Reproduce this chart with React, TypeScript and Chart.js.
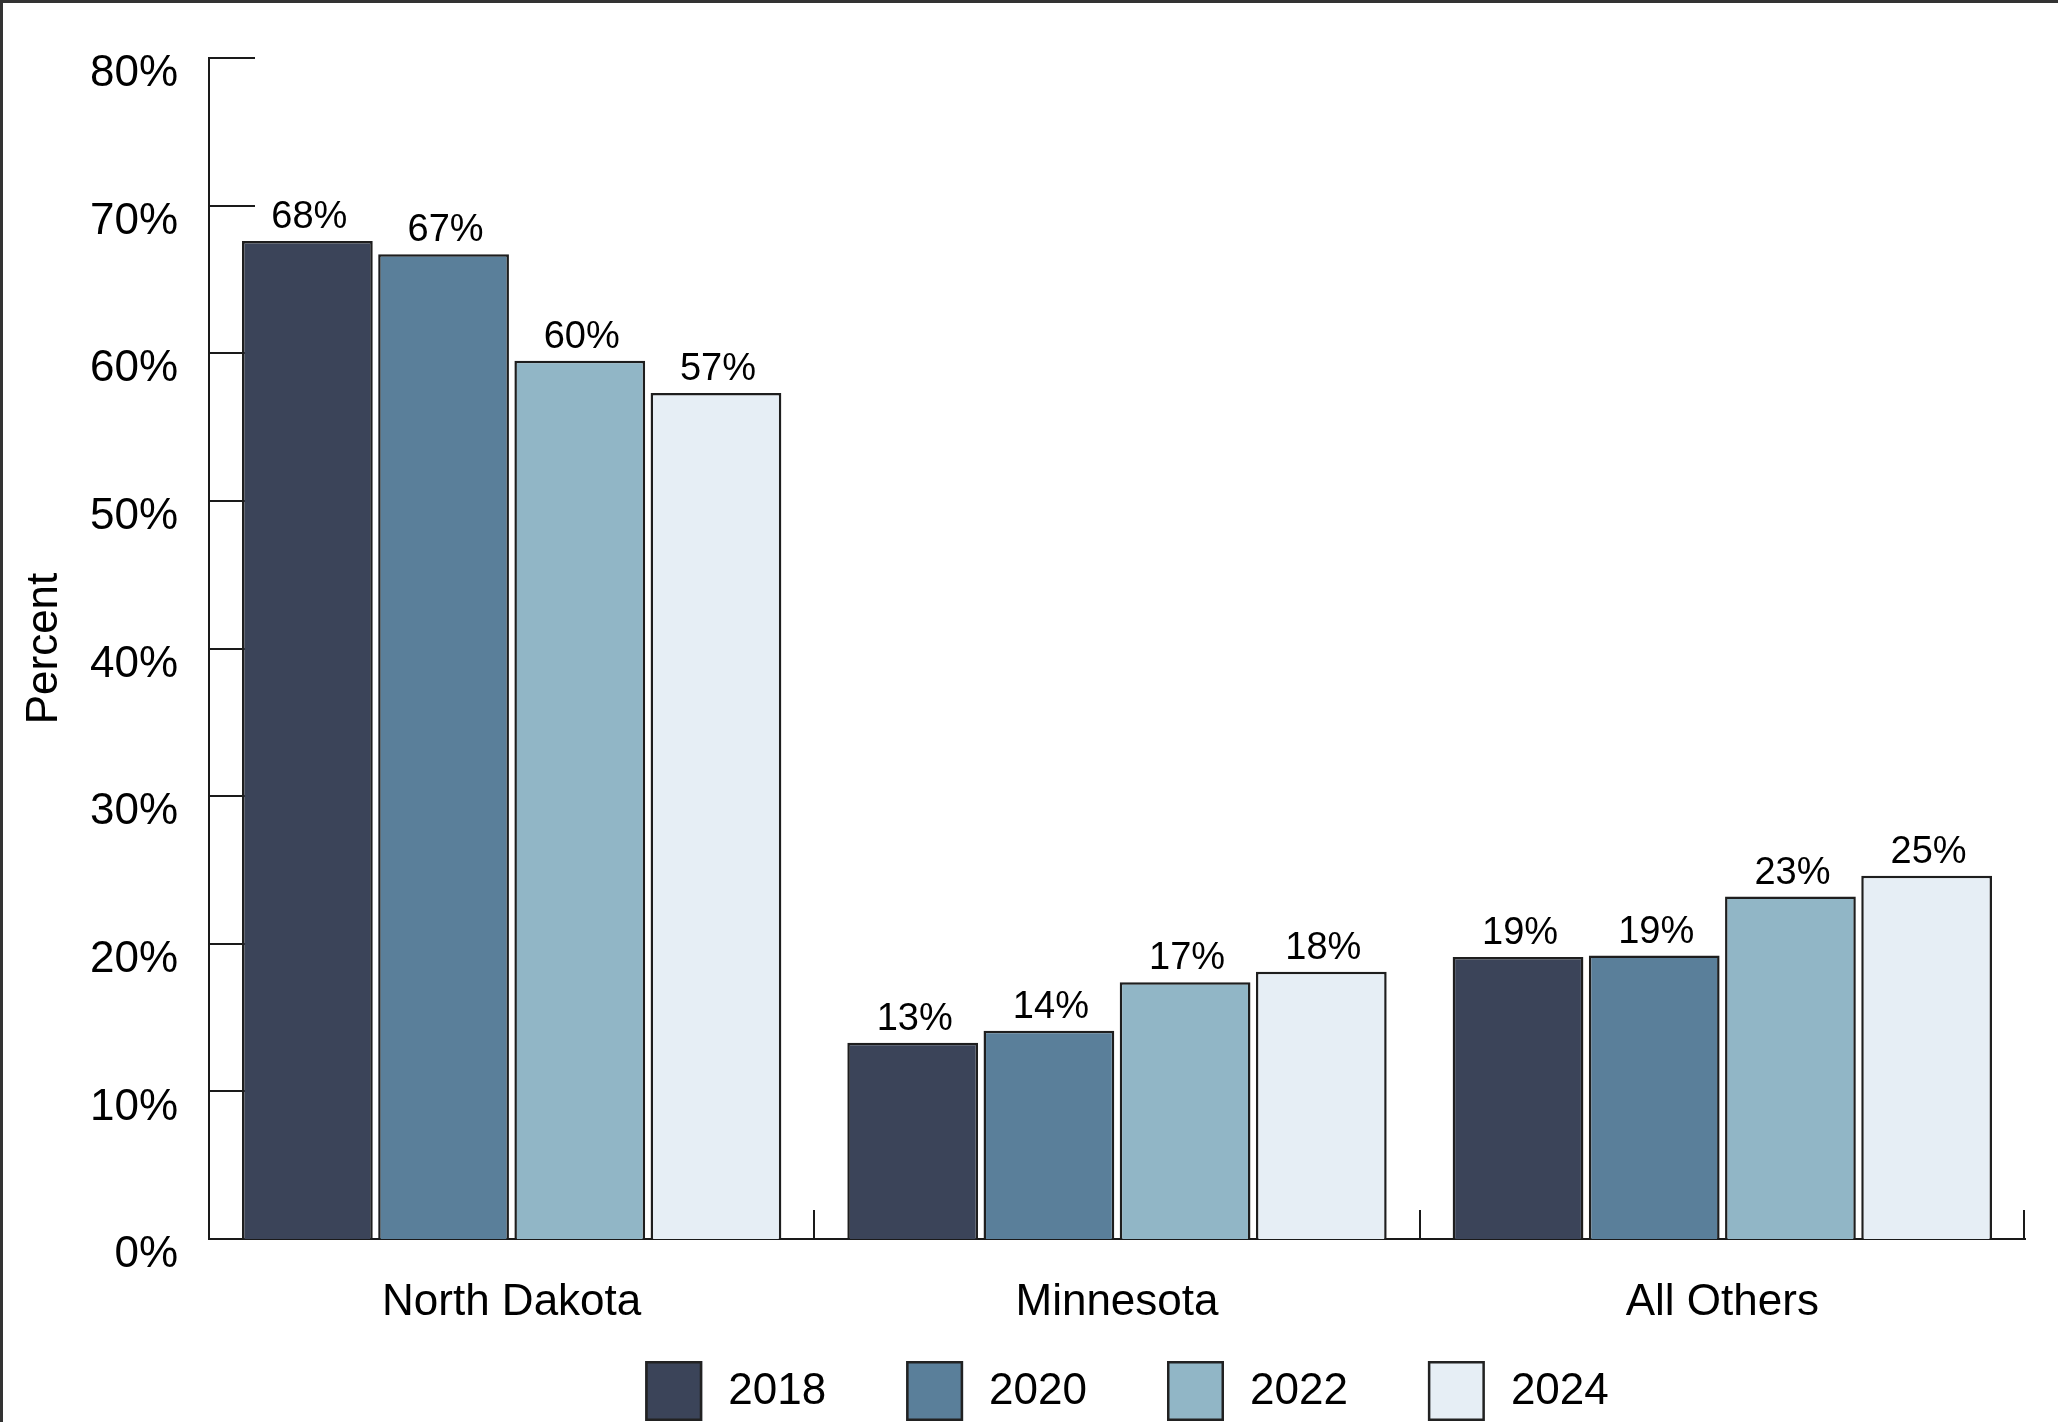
import React, { useEffect, useRef } from 'react';
import { Chart, registerables } from 'chart.js';

Chart.register(...registerables);

const FONT = '"Liberation Sans", Arial, sans-serif';

const categories = ['North Dakota', 'Minnesota', 'All Others'];
const seriesLabels = ['2018', '2020', '2022', '2024'];
const values2018 = [67.6, 13.3, 19.1];
const values2020 = [66.7, 14.1, 19.2];
const values2022 = [59.5, 17.4, 23.2];
const values2024 = [57.3, 18.1, 24.6];
const seriesColors = ['#3b4459', '#5a7f9a', '#91b6c6', '#e6eef5'];
const yMin = 0;
const yMax = 80;
const yStep = 10;

const W = 2058;
const H = 1422;

const framePlugin = {
  id: 'frame',
  beforeDraw(chart: any) {
    const { ctx } = chart;
    ctx.save();
    ctx.fillStyle = '#ffffff';
    ctx.fillRect(0, 0, chart.width, chart.height);
    ctx.fillStyle = '#333333';
    ctx.fillRect(0, 0, chart.width, 3);
    ctx.fillRect(0, 0, 3, chart.height);
    ctx.restore();
  },
};

const innerTicksPlugin = {
  id: 'innerTicks',
  beforeDatasetsDraw(chart: any) {
    const { ctx, chartArea, scales } = chart;
    const y = scales.y;
    ctx.save();
    ctx.strokeStyle = '#1a1a1a';
    ctx.lineWidth = 2;
    y.ticks.forEach((_t: any, i: number) => {
      const py = Math.round(y.getPixelForTick(i));
      ctx.beginPath();
      ctx.moveTo(chartArea.left, py);
      ctx.lineTo(chartArea.left + 46, py);
      ctx.stroke();
    });
    const n = categories.length;
    const span = chartArea.right - chartArea.left;
    for (let i = 1; i <= n; i++) {
      const px = Math.round(chartArea.left + (span * i) / n) - (i === n ? 1 : 0);
      ctx.beginPath();
      ctx.moveTo(px, chartArea.bottom);
      ctx.lineTo(px, chartArea.bottom - 29);
      ctx.stroke();
    }
    ctx.restore();
  },
};

const dataLabelsPlugin = {
  id: 'dataLabels',
  afterDatasetsDraw(chart: any) {
    const { ctx } = chart;
    ctx.save();
    ctx.font = `38px ${FONT}`;
    ctx.fillStyle = '#000000';
    ctx.textAlign = 'center';
    ctx.textBaseline = 'alphabetic';
    chart.data.datasets.forEach((ds: any, di: number) => {
      const meta = chart.getDatasetMeta(di);
      meta.data.forEach((bar: any, i: number) => {
        const v = ds.data[i];
        ctx.fillText(`${Math.round(v)}%`, bar.x + 2, bar.y - 13);
      });
    });
    ctx.restore();
  },
};

const legendPlugin = {
  id: 'customLegend',
  afterDraw(chart: any) {
    const { ctx, chartArea } = chart;
    const boxW = 57;
    const boxH = 60;
    const gap = 26;
    const pad = 80;
    ctx.save();
    ctx.font = `44px ${FONT}`;
    const items = chart.data.datasets.map((ds: any) => ({
      label: ds.label,
      color: ds.backgroundColor,
      w: boxW + gap + ctx.measureText(ds.label).width,
    }));
    const total = items.reduce((s: number, it: any) => s + it.w, 0) + pad * (items.length - 1);
    let x = (chartArea.left + chartArea.right) / 2 + 10 - total / 2;
    const top = chartArea.bottom + 122;
    items.forEach((it: any) => {
      ctx.fillStyle = it.color;
      ctx.fillRect(x, top, boxW, boxH);
      ctx.strokeStyle = '#222222';
      ctx.lineWidth = 2.5;
      ctx.strokeRect(x + 1.25, top + 1.25, boxW - 2.5, boxH - 2.5);
      ctx.fillStyle = '#000000';
      ctx.textAlign = 'left';
      ctx.textBaseline = 'middle';
      ctx.fillText(it.label, x + boxW + gap, top + boxH / 2 + 1);
      x += it.w + pad;
    });
    ctx.restore();
  },
};

export default function App() {
  const canvasRef = useRef<HTMLCanvasElement | null>(null);

  useEffect(() => {
    if (!canvasRef.current) return;
    const seriesValues = [values2018, values2020, values2022, values2024];
    const chart = new Chart(canvasRef.current, {
      type: 'bar',
      data: {
        labels: categories,
        datasets: seriesLabels.map((label, i) => ({
          label,
          data: seriesValues[i],
          backgroundColor: seriesColors[i],
          borderColor: '#1e1e1e',
          borderWidth: 2.5,
          barPercentage: 0.96,
          categoryPercentage: 0.9,
        })),
      },
      options: {
        responsive: false,
        animation: false,
        devicePixelRatio: 1,
        layout: { padding: { top: 58, right: 33, bottom: 0, left: 0 } },
        plugins: {
          legend: { display: false },
          title: { display: false },
          tooltip: { enabled: false },
        },
        scales: {
          x: {
            type: 'category',
            offset: true,
            grid: { display: false, drawTicks: false },
            border: { display: true, color: '#1a1a1a', width: 2 },
            ticks: {
              color: '#000000',
              font: { family: FONT, size: 44 },
              padding: 37,
              maxRotation: 0,
            },
            afterFit(scale: any) {
              scale.height = 183;
            },
          },
          y: {
            min: yMin,
            max: yMax,
            grid: { display: false, drawTicks: false },
            border: { display: true, color: '#1a1a1a', width: 2 },
            ticks: {
              stepSize: yStep,
              color: '#000000',
              font: { family: FONT, size: 44 },
              padding: 31,
              labelOffset: 16,
              callback: (v: any) => `${v}%`,
            },
            title: {
              display: true,
              text: 'Percent',
              color: '#000000',
              font: { family: FONT, size: 44 },
              padding: { top: 18, bottom: 0 },
            },
            afterFit(scale: any) {
              scale.width = 209;
            },
          },
        },
      },
      plugins: [framePlugin, innerTicksPlugin, dataLabelsPlugin, legendPlugin],
    });
    return () => chart.destroy();
  }, []);

  return (
    <div style={{ position: 'fixed', left: 0, top: 0, width: W, height: H, background: '#fff' }}>
      <canvas ref={canvasRef} width={W} height={H} style={{ display: 'block', width: W, height: H }} />
    </div>
  );
}
